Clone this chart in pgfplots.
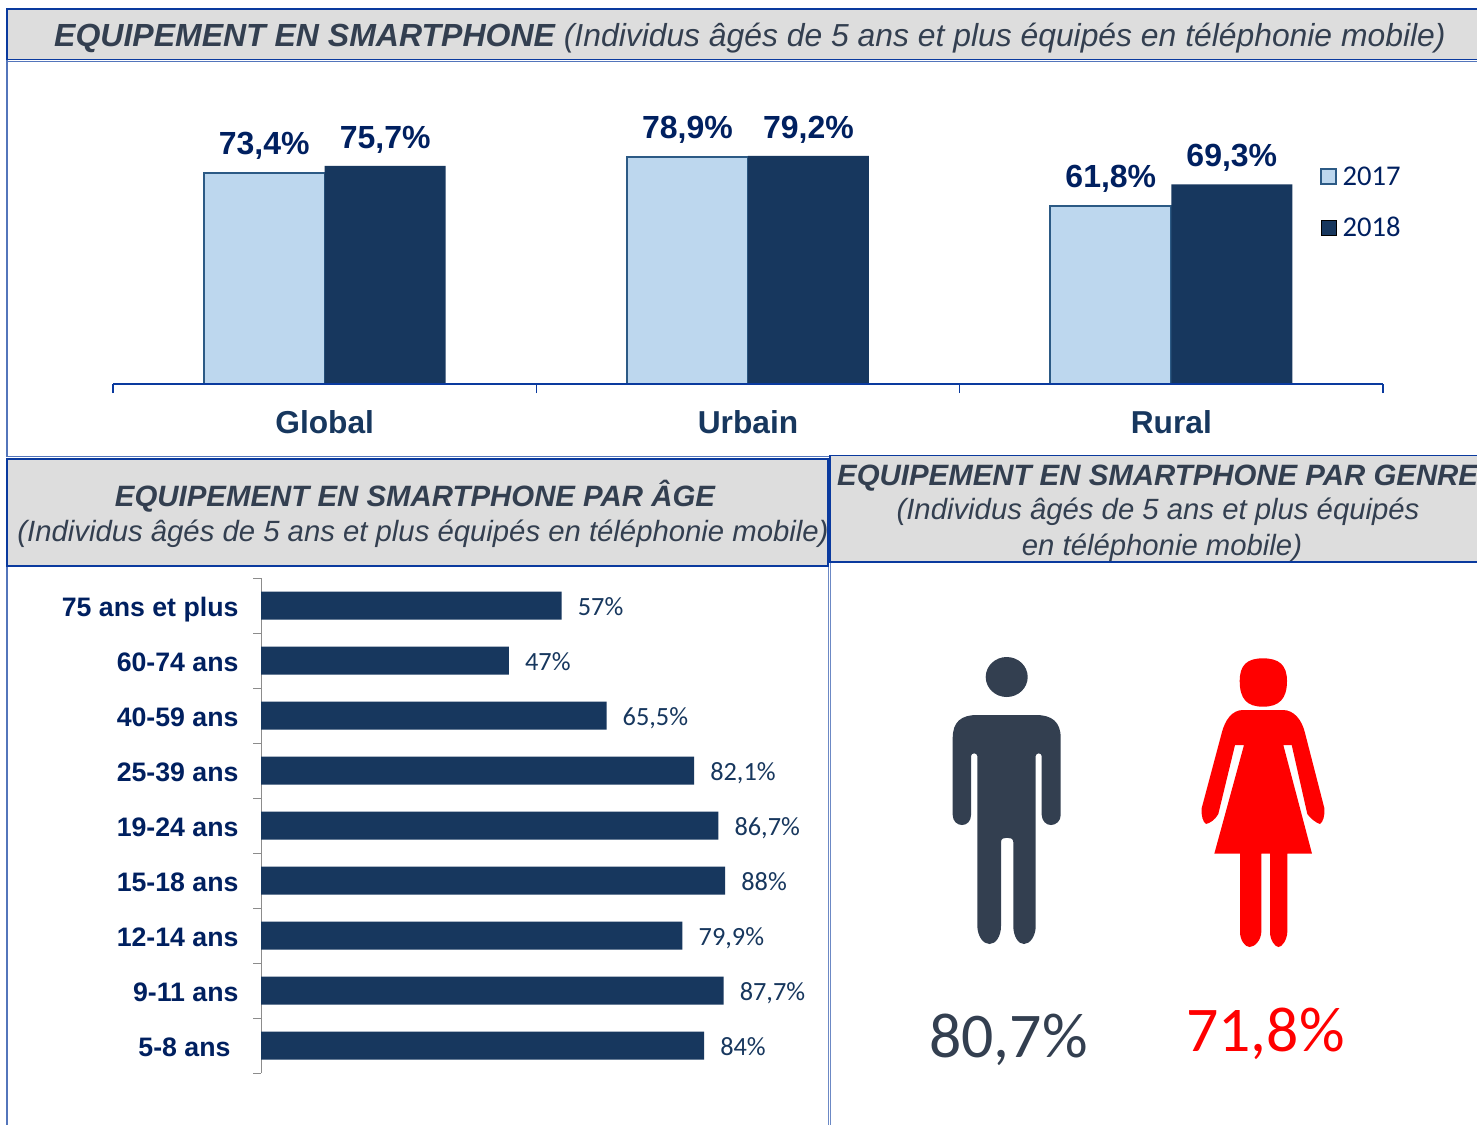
\documentclass[border=0pt]{standalone}
\usepackage{fontspec}
\usepackage{pgfplots}
\pgfplotsset{compat=1.18}
\setmainfont{Liberation Sans}
\newfontfamily\carlito{Carlito}
\definecolor{navy}{HTML}{002060}
\definecolor{darkbar}{HTML}{17375E}
\definecolor{lightbar}{HTML}{BDD7EE}
\definecolor{lightedge}{HTML}{2C5A85}
\definecolor{frameblue}{HTML}{0A3A9E}
\definecolor{headgray}{HTML}{DDDDDD}
\definecolor{slate}{HTML}{333F50}
\newcommand{\fs}[1]{\fontsize{#1}{#1}\selectfont}
\begin{document}
\begin{tikzpicture}[x=1pt,y=-1pt]
\useasboundingbox (0,0) rectangle (1477,1125);
% frames
\fill[white] (0,0) rectangle (1477,1125);
\draw[frameblue!70,line width=1.2pt] (7,60) -- (7,456.5) -- (1477,456.5);
\draw[frameblue!70,line width=1.2pt] (7,566) -- (7,1125);
\draw[frameblue!60,line width=0.9pt] (828,566) -- (828,1125);
\draw[frameblue!60,line width=0.9pt] (830.5,562) -- (830.5,1125);
\draw[frameblue,line width=1.8pt,fill=headgray] (7,9) rectangle (1490,59.5);
\draw[frameblue!70,line width=1pt] (7,61.5) -- (1477,61.5);
\draw[frameblue,line width=1.8pt,fill=headgray] (7,459) rectangle (828,566);
\draw[frameblue,line width=1.8pt,fill=headgray] (830,455.5) rectangle (1490,562);
% headers
\node[anchor=base west,inner sep=0pt,text=slate] at (54,46) {\fs{32}\bfseries\itshape EQUIPEMENT EN SMARTPHONE\ \fs{31.85}\mdseries (Individus âgés de 5 ans et plus équipés en téléphonie mobile)};
\node[anchor=base,inner sep=0pt,text=slate] at (415,506) {\fs{29.4}\bfseries\itshape EQUIPEMENT EN SMARTPHONE PAR ÂGE};
\node[anchor=base,inner sep=0pt,text=slate] at (423,541) {\fs{29.3}\itshape (Individus âgés de 5 ans et plus équipés en téléphonie mobile)};
\node[anchor=base west,inner sep=0pt,text=slate] at (837,485) {\fs{29.4}\bfseries\itshape EQUIPEMENT EN SMARTPHONE PAR GENRE};
\node[anchor=base,inner sep=0pt,text=slate] at (1158,519) {\fs{29.3}\itshape (Individus âgés de 5 ans et plus équipés};
\node[anchor=base,inner sep=0pt,text=slate] at (1162,555) {\fs{29.3}\itshape en téléphonie mobile)};
% top chart
\begin{axis}[
  at={(113pt,-384pt)},anchor=south west,
  scale only axis,width=1270pt,height=288pt,
  ybar=0pt,bar width=121pt,
  xmin=-0.5,xmax=2.5,ymin=0,ymax=100,
  axis x line*=bottom,hide y axis,clip=false,axis on top,
  axis line style={frameblue,line width=1.4pt},
  xtick={0,1,2},xticklabels={Global,Urbain,Rural},
  minor xtick={-0.5,0.5,1.5,2.5},
  major tick length=0pt,minor tick length=9pt,tick align=outside,
  minor tick style={frameblue,line width=1.4pt},
  xticklabel style={font=\fs{31.7}\bfseries,text=darkbar,yshift=-23pt},
  /pgf/number format/assume math mode=true,
  /pgf/number format/use comma,
  /pgf/number format/fixed,
  /pgf/number format/fixed zerofill,
  /pgf/number format/precision=1,
  nodes near coords={\pgfmathprintnumber{\pgfplotspointmeta}\%},
  every node near coord/.append style={font=\fs{32}\bfseries,text=navy,yshift=9pt},
  legend style={at={(0.9505,0.762)},anchor=north west,draw=none,fill=none,
    font=\fs{28.6}\carlito,text=navy,row sep=26pt,inner sep=0pt},
  legend cell align=left,
  legend image code/.code={\draw[#1] (0pt,-7.5pt) rectangle (15pt,7.5pt);\path[draw=none,fill=none] (0pt,0pt) -- (19.5pt,0pt);},
]
\addplot[draw=lightedge,fill=lightbar,line width=1.8pt] coordinates {(0,73.4) (1,78.9) (2,61.8)};
\addplot[draw=none,fill=darkbar] coordinates {(0,75.7) (1,79.2) (2,69.3)};
\legend{2017,2018}
\end{axis}
% age chart
\begin{axis}[
  at={(261pt,-1073pt)},anchor=south west,
  scale only axis,width=527.5pt,height=495pt,
  xbar,bar width=28pt,
  xmin=0,xmax=100,ymin=-0.5,ymax=8.5,
  axis y line*=left,hide x axis,clip=false,
  axis line style={black!45,line width=1pt},
  ytick={0,1,2,3,4,5,6,7,8},
  yticklabels={5-8 ans\hspace{8pt}\mbox{},9-11 ans,12-14 ans,15-18 ans,19-24 ans,25-39 ans,40-59 ans,60-74 ans,75 ans et plus},
  minor ytick={-0.5,0.5,1.5,2.5,3.5,4.5,5.5,6.5,7.5,8.5},
  major tick length=0pt,minor tick length=8pt,tick align=outside,
  minor tick style={black!45,line width=1pt},
  yticklabel style={font=\fs{26.7}\bfseries,text=navy,xshift=-19pt,yshift=-1pt,text height=19pt,text depth=0pt},
  point meta=x,
  /pgf/number format/assume math mode=true,
  /pgf/number format/use comma,
  /pgf/number format/fixed,
  /pgf/number format/precision=1,
  nodes near coords={\pgfmathprintnumber{\pgfplotspointmeta}\%},
  every node near coord/.append style={font=\fs{26.3}\carlito,text=darkbar,anchor=west,inner sep=0pt,xshift=16pt,yshift=-1pt,text height=17pt,text depth=0pt},
]
\addplot[draw=none,fill=darkbar] coordinates {(84,0) (87.7,1) (79.9,2) (88,3) (86.7,4) (82.1,5) (65.5,6) (47,7) (57,8)};
\end{axis}
% pictograms
\fill[slate] (1006.7,677) ellipse [x radius=21,y radius=20];
\fill[slate] (977.3,760) -- (977.3,926) .. controls (977.5,936) and (983,944) .. (989.5,944) .. controls (996,944) and (1001,936) .. (1001,926)
 -- (1001,842) .. controls (1001,838.5) and (1004,837.7) .. (1007,837.7) .. controls (1010,837.7) and (1013.3,838.5) .. (1013.3,842)
 -- (1013.3,926) .. controls (1013.3,936) and (1018,944) .. (1024,944) .. controls (1030,944) and (1035.7,936) .. (1035.7,926)
 -- (1035.7,756) .. controls (1035.7,752.5) and (1041.7,752.5) .. (1041.7,756) -- (1041.7,815) .. controls (1042,821) and (1046,825) .. (1051,825) .. controls (1056,825) and (1060.7,821) .. (1060.7,815)
 -- (1060.7,738) .. controls (1060.7,722) and (1052,715) .. (1036,715) -- (977,715) .. controls (961,715) and (952.7,722) .. (952.7,738)
 -- (952.7,815) .. controls (952.7,821) and (957,825) .. (962,825) .. controls (967,825) and (971,821) .. (971,815)
 -- (971,756) .. controls (971,752.5) and (977.3,752.5) .. (977.3,756) -- cycle;
\fill[red] (1263,658.3) .. controls (1279,658.3) and (1287,665) .. (1287,681) .. controls (1287,699) and (1279,706.7) .. (1263,706.7) .. controls (1247,706.7) and (1239.7,699) .. (1239.7,681) .. controls (1239.7,665) and (1247,658.3) .. (1263,658.3) -- cycle;
\fill[red] (1243,710) -- (1283,710) .. controls (1294,710) and (1302,720) .. (1305,733)
 -- (1324.3,808) .. controls (1325,816) and (1323,822) .. (1320,824) .. controls (1316,823) and (1310,818) .. (1307.3,814)
 -- (1291.7,745) -- (1283.3,745) -- (1312,853.7) -- (1287.3,853.7) -- (1287.3,932) .. controls (1287,940) and (1282,947) .. (1278.5,947) .. controls (1275,947) and (1270,940) .. (1270,932)
 -- (1270,853.7) -- (1261.3,853.7) -- (1261.3,932) .. controls (1261,940) and (1255,947) .. (1249.5,947) .. controls (1245,947) and (1240,940) .. (1240,932)
 -- (1240,853.7) -- (1214.3,853.7) -- (1244,745) -- (1235,745) -- (1218.3,814) .. controls (1215,820) and (1210,823) .. (1206,824) .. controls (1203,822) and (1201,816) .. (1201.7,808)
 -- (1221.7,733) .. controls (1225,720) and (1232,710) .. (1243,710) -- cycle;
\node[anchor=base,inner sep=0pt,text=slate] at (1008.5,1057) {\fs{63.7}\carlito 80,7\%};
\node[anchor=base,inner sep=0pt,text=red] at (1265.5,1051) {\fs{63.7}\carlito 71,8\%};
\end{tikzpicture}
\end{document}
